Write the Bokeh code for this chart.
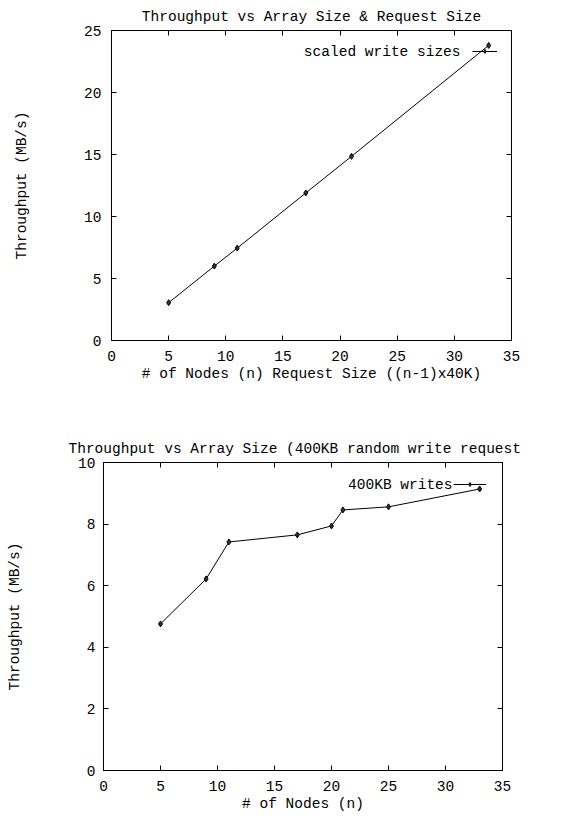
from bokeh.plotting import figure
from bokeh.models import (Range1d, LinearAxis, FixedTicker, Legend, LegendItem,
                          Label, Title)
from bokeh.embed import file_html
from bokeh.resources import INLINE

FONT = "Liberation Mono"
FS = "14.5px"

# ---------------- data ----------------
x_ticks = [0, 5, 10, 15, 20, 25, 30, 35]

top_title = "Throughput vs Array Size & Request Size"
top_xlabel = "# of Nodes (n) Request Size ((n-1)x40K)"
top_ylabel = "Throughput (MB/s)"
top_legend = "scaled write sizes"
top_nodes = [5, 9, 11, 17, 21, 33]
top_tput = [3.05, 6.0, 7.45, 11.9, 14.85, 23.8]
top_y_ticks = [0, 5, 10, 15, 20, 25]

bot_title = "Throughput vs Array Size (400KB random write request"
bot_xlabel = "# of Nodes (n)"
bot_ylabel = "Throughput (MB/s)"
bot_legend = "400KB writes"
bot_nodes = [5, 9, 11, 17, 20, 21, 25, 33]
bot_tput = [4.76, 6.22, 7.42, 7.65, 7.94, 8.46, 8.56, 9.14]
bot_y_ticks = [0, 2, 4, 6, 8, 10]


def style_axis(ax, ticks, label_standoff=10, axis_label_standoff=5):
    ax.ticker = FixedTicker(ticks=ticks)
    ax.major_tick_in = 5
    ax.major_tick_out = 0
    ax.minor_tick_in = 0
    ax.minor_tick_out = 0
    ax.axis_line_color = "black"
    ax.axis_line_width = 1
    ax.major_tick_line_color = "black"
    ax.major_tick_line_width = 1
    ax.major_label_text_font = FONT
    ax.major_label_text_font_size = FS
    ax.major_label_text_color = "black"
    ax.major_label_standoff = label_standoff
    ax.axis_label_text_font = FONT
    ax.axis_label_text_font_size = FS
    ax.axis_label_text_font_style = "normal"
    ax.axis_label_text_color = "black"
    ax.axis_label_standoff = axis_label_standoff


def mirror_axis(ticks):
    # tick marks only (drawn as minor ticks, so no labels are produced)
    ax = LinearAxis(ticker=FixedTicker(ticks=[], minor_ticks=ticks))
    ax.major_tick_in = 0
    ax.major_tick_out = 0
    ax.minor_tick_in = 5
    ax.minor_tick_out = 0
    ax.minor_tick_line_color = "black"
    ax.minor_tick_line_width = 1
    ax.axis_line_color = "black"
    ax.major_label_standoff = 0
    return ax


def make_fig(title, xlabel, ylabel, legend_text, xs, ys, ymax, yticks, height,
             borders, title_align, title_offset, ylab_standoff, ytick_standoff,
             legend_pos, glyph_w, label_pos):
    bl, br, bt, bb = borders
    p = figure(width=579, height=height, x_range=Range1d(0, 35),
               y_range=Range1d(0, ymax), output_backend="svg",
               toolbar_location=None, min_border_left=bl, min_border_right=br,
               min_border_top=bt, min_border_bottom=bb)
    p.title = Title(text=title, align=title_align, offset=title_offset,
                    text_font=FONT, text_font_size=FS, text_font_style="normal",
                    text_color="black", standoff=11)
    p.xgrid.visible = False
    p.ygrid.visible = False
    p.outline_line_color = "black"
    p.outline_line_width = 1
    p.background_fill_color = "white"
    p.border_fill_color = "white"

    style_axis(p.xaxis[0], x_ticks, 10, 2)
    p.xaxis[0].axis_label = xlabel
    style_axis(p.yaxis[0], yticks, ytick_standoff, ylab_standoff)
    p.yaxis[0].axis_label = ylabel

    p.add_layout(mirror_axis(x_ticks), "above")
    p.add_layout(mirror_axis(yticks), "right")

    line_r = p.line(xs, ys, line_color="black", line_width=1)
    mark_r = p.scatter(xs, ys, marker="diamond", size=6, line_color="black",
                       line_width=1, fill_color="#333333")

    leg = Legend(items=[LegendItem(label=" ", renderers=[line_r, mark_r])],
                 location=legend_pos, padding=0, margin=0, spacing=0,
                 glyph_width=glyph_w, glyph_height=10, label_height=10,
                 label_width=0, label_standoff=0, label_text_font_size="8px",
                 border_line_color=None, background_fill_alpha=0)
    p.add_layout(leg)
    p.add_layout(Label(x=label_pos[0], y=label_pos[1], x_units="screen",
                       y_units="screen", text=legend_text, text_align="right",
                       text_baseline="middle", text_font=FONT,
                       text_font_size=FS, text_color="black"))
    return p


p1 = make_fig(top_title, top_xlabel, top_ylabel, top_legend, top_nodes, top_tput,
              25, top_y_ticks, 384, (111, 68, 30, 44), "center", 0, 51, 10,
              (361, 284), 25, (349, 289))
p2 = make_fig(bot_title, bot_xlabel, bot_ylabel, bot_legend, bot_nodes, bot_tput,
              10, bot_y_ticks, 430, (103, 77, 78, 44), "left", -35, 52, 8,
              (350, 281), 33, (349, 286))

# two separate roots, stacked, so that their frames are not aligned
open("out.html", "w").write(file_html([p1, p2], INLINE))
